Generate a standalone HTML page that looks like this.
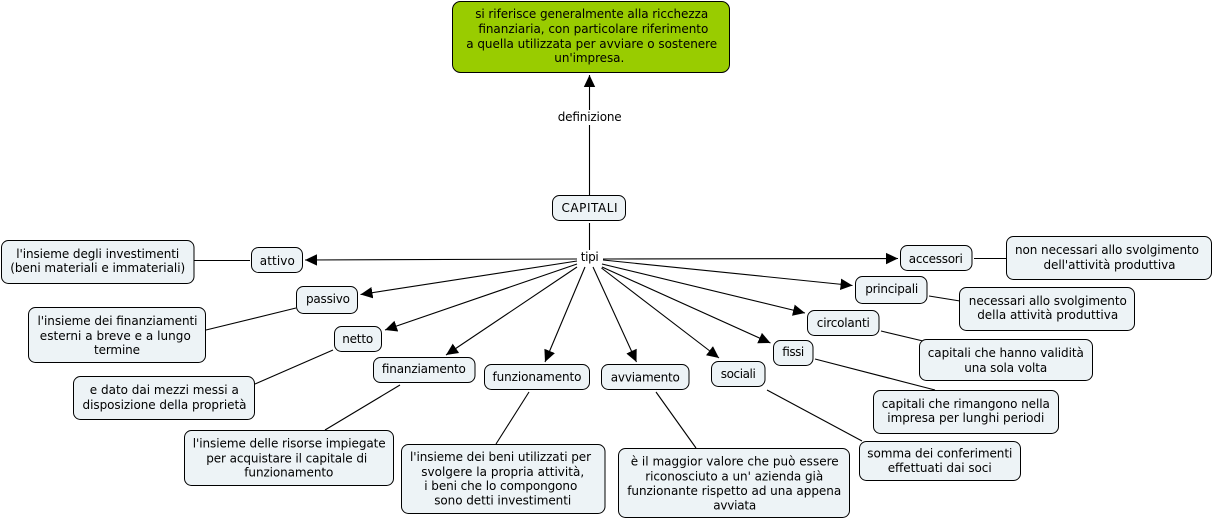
<!DOCTYPE html>
<html><head><meta charset="utf-8">
<style>
html,body{margin:0;padding:0;background:#fff;width:1213px;height:520px;overflow:hidden}
svg{display:block}
text{font-family:"DejaVu Sans","Liberation Sans",sans-serif;font-size:12px;fill:#000;text-anchor:middle}
rect{fill:#edf3f6;stroke:#000;stroke-width:1}
rect.g{fill:#99cc00}
line{stroke:#000;stroke-width:1.1}
</style></head><body>
<svg width="1213" height="520" viewBox="0 0 1213 520" xmlns="http://www.w3.org/2000/svg">
<defs><marker id="a" markerUnits="userSpaceOnUse" markerWidth="13" markerHeight="13" refX="12" refY="6" orient="auto"><path d="M0,0.3L12,6L0,11.7z" fill="#000"/></marker></defs>
<line x1="589.5" y1="110" x2="589.5" y2="75" marker-end="url(#a)"/>
<line x1="577" y1="259" x2="305" y2="260" marker-end="url(#a)"/>
<line x1="577" y1="261" x2="360.5" y2="294.5" marker-end="url(#a)"/>
<line x1="577" y1="264" x2="385" y2="330" marker-end="url(#a)"/>
<line x1="577" y1="267" x2="446" y2="355" marker-end="url(#a)"/>
<line x1="585" y1="267" x2="545" y2="362" marker-end="url(#a)"/>
<line x1="593" y1="267" x2="636.5" y2="362" marker-end="url(#a)"/>
<line x1="601.5" y1="268" x2="719" y2="358" marker-end="url(#a)"/>
<line x1="602" y1="267" x2="770.5" y2="343" marker-end="url(#a)"/>
<line x1="602" y1="264" x2="805" y2="313" marker-end="url(#a)"/>
<line x1="603" y1="260" x2="852.5" y2="285.5" marker-end="url(#a)"/>
<line x1="603" y1="259" x2="898" y2="258.5" marker-end="url(#a)"/>
<line x1="589.5" y1="195" x2="589.5" y2="125"/>
<line x1="589.5" y1="223" x2="589.5" y2="250"/>
<line x1="194" y1="260.5" x2="250" y2="260.5"/>
<line x1="206" y1="330" x2="296" y2="308"/>
<line x1="255" y1="384" x2="333" y2="350"/>
<line x1="325" y1="430" x2="400" y2="385"/>
<line x1="496" y1="444" x2="529" y2="392"/>
<line x1="696" y1="448" x2="656" y2="392"/>
<line x1="767" y1="390" x2="862" y2="441"/>
<line x1="815" y1="359" x2="935" y2="390"/>
<line x1="881" y1="331" x2="923" y2="341"/>
<line x1="929" y1="296" x2="960" y2="301"/>
<line x1="974" y1="258.5" x2="1006" y2="258.5"/>

<rect class="g" x="452.5" y="1.5" width="277" height="71" rx="8"/>
<rect x="552.5" y="195.5" width="73" height="25" rx="7"/>
<rect x="251.5" y="247.5" width="51" height="25" rx="7"/>
<rect x="1.5" y="240.5" width="192.5" height="43" rx="7"/>
<rect x="296.5" y="286.5" width="61" height="27" rx="7"/>
<rect x="28.5" y="307.5" width="177" height="55" rx="7"/>
<rect x="334.5" y="326.5" width="47" height="25" rx="7"/>
<rect x="73.5" y="376.5" width="181" height="43" rx="7"/>
<rect x="373.5" y="357.5" width="101.5" height="25" rx="7"/>
<rect x="484.5" y="364.5" width="105" height="25" rx="7"/>
<rect x="601.5" y="364.5" width="87.5" height="25" rx="7"/>
<rect x="711.5" y="361.5" width="53.5" height="25" rx="7"/>
<rect x="773.5" y="340.5" width="39.5" height="25" rx="7"/>
<rect x="807.5" y="310.5" width="71.5" height="25" rx="7"/>
<rect x="855.5" y="276.5" width="71.5" height="27" rx="7"/>
<rect x="900.5" y="245.5" width="71.5" height="25" rx="7"/>
<rect x="1006.5" y="236.5" width="205" height="43" rx="7"/>
<rect x="959.5" y="287.5" width="175" height="43" rx="7"/>
<rect x="919.5" y="339.5" width="173" height="41" rx="7"/>
<rect x="873.5" y="390.5" width="185" height="43" rx="7"/>
<rect x="859.5" y="441.5" width="161" height="39" rx="7"/>
<rect x="184.5" y="430.5" width="209" height="55" rx="7"/>
<rect x="401.5" y="444.5" width="203.5" height="69" rx="7"/>
<rect x="618.5" y="448.5" width="231" height="69" rx="7"/>

<text x="591.7" y="18" textLength="233">si riferisce generalmente alla ricchezza</text>
<text x="593.3" y="33" textLength="230">finanziaria, con particolare riferimento</text>
<text x="591.7" y="48" textLength="251">a quella utilizzata per avviare o sostenere</text>
<text x="589.3" y="62" textLength="70">un'impresa.</text>
<text x="589.7" y="121" textLength="64">definizione</text>
<text x="589.5" y="212" textLength="56">CAPITALI</text>
<text x="589.7" y="261" textLength="18">tipi</text>
<text x="277.3" y="265" textLength="35">attivo</text>
<text x="97.7" y="258" textLength="163">l'insieme degli investimenti</text>
<text x="97.7" y="272" textLength="175">(beni materiali e immateriali)</text>
<text x="328" y="303" textLength="44">passivo</text>
<text x="117.5" y="325" textLength="160">l'insieme dei finanziamenti</text>
<text x="115.3" y="340" textLength="151">esterni a breve e a lungo</text>
<text x="117" y="354" textLength="46">termine</text>
<text x="357.7" y="343" textLength="31">netto</text>
<text x="164.3" y="394" textLength="149">e dato dai mezzi messi a</text>
<text x="164.5" y="409" textLength="164">disposizione della proprietà</text>
<text x="423.8" y="373" textLength="84">finanziamento</text>
<text x="537" y="381" textLength="89">funzionamento</text>
<text x="645.3" y="381.5" textLength="69">avviamento</text>
<text x="738.3" y="378" textLength="35">sociali</text>
<text x="793" y="356" textLength="22">fissi</text>
<text x="843.3" y="327" textLength="53">circolanti</text>
<text x="891.7" y="293" textLength="53">principali</text>
<text x="935.8" y="263" textLength="54">accessori</text>
<text x="1107" y="254" textLength="184">non necessari allo svolgimento</text>
<text x="1109.5" y="269" textLength="132">dell'attività produttiva</text>
<text x="1047.8" y="305" textLength="158">necessari allo svolgimento</text>
<text x="1047.7" y="319" textLength="141">della attività produttiva</text>
<text x="1005.8" y="357" textLength="156">capitali che hanno validità</text>
<text x="1005.7" y="372" textLength="83">una sola volta</text>
<text x="965.8" y="408" textLength="168">capitali che rimangono nella</text>
<text x="965.8" y="422" textLength="157">impresa per lunghi periodi</text>
<text x="939.8" y="457.5" textLength="145">somma dei conferimenti</text>
<text x="939.7" y="472" textLength="104">effettuati dai soci</text>
<text x="289.2" y="447.5" textLength="193">l'insieme delle risorse impiegate</text>
<text x="286.7" y="462.5" textLength="161">per acquistare il capitale di</text>
<text x="288.8" y="476.5" textLength="89">funzionamento</text>
<text x="500.5" y="461" textLength="181">l'insieme dei beni utilizzati per</text>
<text x="502.7" y="476" textLength="163">svolgere la propria attività,</text>
<text x="500.8" y="490" textLength="153">i beni che lo compongono</text>
<text x="502.7" y="504.5" textLength="137">sono detti investimenti</text>
<text x="734.7" y="465.5" textLength="208">è il maggior valore che può essere</text>
<text x="734.2" y="480.5" textLength="178">riconosciuto a un' azienda già</text>
<text x="734.2" y="495" textLength="214">funzionante rispetto ad una appena</text>
<text x="734.7" y="509.5" textLength="43">avviata</text>
</svg>
</body></html>
